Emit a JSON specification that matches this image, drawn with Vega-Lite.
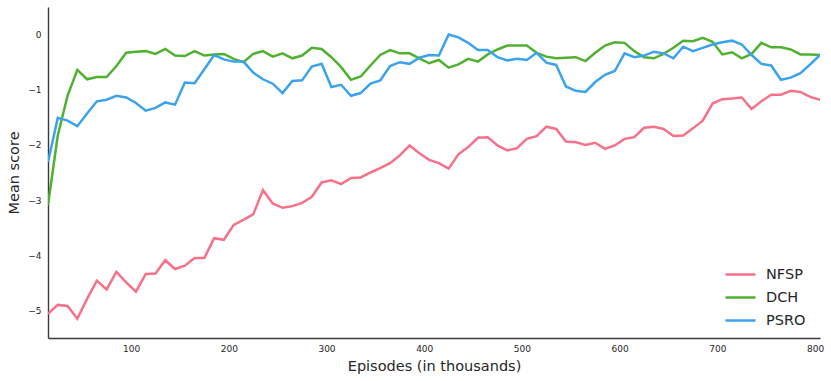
{
 "$schema": "https://vega.github.io/schema/vega-lite/v6.json",
 "width": 772,
 "height": 331,
 "autosize": {"type": "none"},
 "padding": {"left": 48, "top": 7, "right": 11, "bottom": 43},
 "background": "white",
 "config": {"view": {"stroke": null}, "font": "DejaVu Sans"},
 "datasets": {
  "scores": [
   {"ep":15,"method":"NFSP","score":-5.06},{"ep":25,"method":"NFSP","score":-4.90},{"ep":35,"method":"NFSP","score":-4.92},{"ep":45,"method":"NFSP","score":-5.15},{"ep":55,"method":"NFSP","score":-4.79},{"ep":65,"method":"NFSP","score":-4.46},{"ep":75,"method":"NFSP","score":-4.62},{"ep":85,"method":"NFSP","score":-4.30},{"ep":95,"method":"NFSP","score":-4.49},{"ep":105,"method":"NFSP","score":-4.66},
   {"ep":115,"method":"NFSP","score":-4.34},{"ep":125,"method":"NFSP","score":-4.33},{"ep":135,"method":"NFSP","score":-4.09},{"ep":145,"method":"NFSP","score":-4.25},{"ep":155,"method":"NFSP","score":-4.19},{"ep":165,"method":"NFSP","score":-4.05},{"ep":175,"method":"NFSP","score":-4.05},{"ep":185,"method":"NFSP","score":-3.69},{"ep":195,"method":"NFSP","score":-3.72},{"ep":205,"method":"NFSP","score":-3.45},
   {"ep":215,"method":"NFSP","score":-3.36},{"ep":225,"method":"NFSP","score":-3.26},{"ep":235,"method":"NFSP","score":-2.82},{"ep":245,"method":"NFSP","score":-3.06},{"ep":255,"method":"NFSP","score":-3.14},{"ep":265,"method":"NFSP","score":-3.11},{"ep":275,"method":"NFSP","score":-3.05},{"ep":285,"method":"NFSP","score":-2.94},{"ep":295,"method":"NFSP","score":-2.68},{"ep":305,"method":"NFSP","score":-2.64},
   {"ep":315,"method":"NFSP","score":-2.71},{"ep":325,"method":"NFSP","score":-2.60},{"ep":335,"method":"NFSP","score":-2.59},{"ep":345,"method":"NFSP","score":-2.50},{"ep":355,"method":"NFSP","score":-2.42},{"ep":365,"method":"NFSP","score":-2.33},{"ep":375,"method":"NFSP","score":-2.19},{"ep":385,"method":"NFSP","score":-2.01},{"ep":395,"method":"NFSP","score":-2.15},{"ep":405,"method":"NFSP","score":-2.27},
   {"ep":415,"method":"NFSP","score":-2.33},{"ep":425,"method":"NFSP","score":-2.43},{"ep":435,"method":"NFSP","score":-2.17},{"ep":445,"method":"NFSP","score":-2.04},{"ep":455,"method":"NFSP","score":-1.87},{"ep":465,"method":"NFSP","score":-1.86},{"ep":475,"method":"NFSP","score":-2.01},{"ep":485,"method":"NFSP","score":-2.10},{"ep":495,"method":"NFSP","score":-2.06},{"ep":505,"method":"NFSP","score":-1.89},
   {"ep":515,"method":"NFSP","score":-1.84},{"ep":525,"method":"NFSP","score":-1.67},{"ep":535,"method":"NFSP","score":-1.71},{"ep":545,"method":"NFSP","score":-1.94},{"ep":555,"method":"NFSP","score":-1.95},{"ep":565,"method":"NFSP","score":-2.00},{"ep":575,"method":"NFSP","score":-1.96},{"ep":585,"method":"NFSP","score":-2.07},{"ep":595,"method":"NFSP","score":-2.01},{"ep":605,"method":"NFSP","score":-1.89},
   {"ep":615,"method":"NFSP","score":-1.86},{"ep":625,"method":"NFSP","score":-1.69},{"ep":635,"method":"NFSP","score":-1.67},{"ep":645,"method":"NFSP","score":-1.71},{"ep":655,"method":"NFSP","score":-1.84},{"ep":665,"method":"NFSP","score":-1.83},{"ep":675,"method":"NFSP","score":-1.70},{"ep":685,"method":"NFSP","score":-1.56},{"ep":695,"method":"NFSP","score":-1.25},{"ep":705,"method":"NFSP","score":-1.17},
   {"ep":715,"method":"NFSP","score":-1.16},{"ep":725,"method":"NFSP","score":-1.14},{"ep":735,"method":"NFSP","score":-1.35},{"ep":745,"method":"NFSP","score":-1.21},{"ep":755,"method":"NFSP","score":-1.09},{"ep":765,"method":"NFSP","score":-1.09},{"ep":775,"method":"NFSP","score":-1.02},{"ep":785,"method":"NFSP","score":-1.04},{"ep":795,"method":"NFSP","score":-1.13},{"ep":805,"method":"NFSP","score":-1.18},

   {"ep":15,"method":"DCH","score":-3.09},{"ep":25,"method":"DCH","score":-1.83},{"ep":35,"method":"DCH","score":-1.11},{"ep":45,"method":"DCH","score":-0.64},{"ep":55,"method":"DCH","score":-0.81},{"ep":65,"method":"DCH","score":-0.77},{"ep":75,"method":"DCH","score":-0.77},{"ep":85,"method":"DCH","score":-0.57},{"ep":95,"method":"DCH","score":-0.33},{"ep":105,"method":"DCH","score":-0.31},
   {"ep":115,"method":"DCH","score":-0.30},{"ep":125,"method":"DCH","score":-0.35},{"ep":135,"method":"DCH","score":-0.26},{"ep":145,"method":"DCH","score":-0.38},{"ep":155,"method":"DCH","score":-0.39},{"ep":165,"method":"DCH","score":-0.30},{"ep":175,"method":"DCH","score":-0.38},{"ep":185,"method":"DCH","score":-0.36},{"ep":195,"method":"DCH","score":-0.35},{"ep":205,"method":"DCH","score":-0.44},
   {"ep":215,"method":"DCH","score":-0.50},{"ep":225,"method":"DCH","score":-0.35},{"ep":235,"method":"DCH","score":-0.30},{"ep":245,"method":"DCH","score":-0.40},{"ep":255,"method":"DCH","score":-0.34},{"ep":265,"method":"DCH","score":-0.43},{"ep":275,"method":"DCH","score":-0.38},{"ep":285,"method":"DCH","score":-0.24},{"ep":295,"method":"DCH","score":-0.26},{"ep":305,"method":"DCH","score":-0.41},
   {"ep":315,"method":"DCH","score":-0.59},{"ep":325,"method":"DCH","score":-0.82},{"ep":335,"method":"DCH","score":-0.76},{"ep":345,"method":"DCH","score":-0.56},{"ep":355,"method":"DCH","score":-0.37},{"ep":365,"method":"DCH","score":-0.28},{"ep":375,"method":"DCH","score":-0.34},{"ep":385,"method":"DCH","score":-0.34},{"ep":395,"method":"DCH","score":-0.43},{"ep":405,"method":"DCH","score":-0.52},
   {"ep":415,"method":"DCH","score":-0.46},{"ep":425,"method":"DCH","score":-0.60},{"ep":435,"method":"DCH","score":-0.54},{"ep":445,"method":"DCH","score":-0.44},{"ep":455,"method":"DCH","score":-0.49},{"ep":465,"method":"DCH","score":-0.36},{"ep":475,"method":"DCH","score":-0.27},{"ep":485,"method":"DCH","score":-0.20},{"ep":495,"method":"DCH","score":-0.20},{"ep":505,"method":"DCH","score":-0.20},
   {"ep":515,"method":"DCH","score":-0.33},{"ep":525,"method":"DCH","score":-0.40},{"ep":535,"method":"DCH","score":-0.43},{"ep":545,"method":"DCH","score":-0.42},{"ep":555,"method":"DCH","score":-0.41},{"ep":565,"method":"DCH","score":-0.48},{"ep":575,"method":"DCH","score":-0.33},{"ep":585,"method":"DCH","score":-0.20},{"ep":595,"method":"DCH","score":-0.14},{"ep":605,"method":"DCH","score":-0.15},
   {"ep":615,"method":"DCH","score":-0.30},{"ep":625,"method":"DCH","score":-0.41},{"ep":635,"method":"DCH","score":-0.43},{"ep":645,"method":"DCH","score":-0.35},{"ep":655,"method":"DCH","score":-0.24},{"ep":665,"method":"DCH","score":-0.11},{"ep":675,"method":"DCH","score":-0.12},{"ep":685,"method":"DCH","score":-0.06},{"ep":695,"method":"DCH","score":-0.13},{"ep":705,"method":"DCH","score":-0.36},
   {"ep":715,"method":"DCH","score":-0.32},{"ep":725,"method":"DCH","score":-0.43},{"ep":735,"method":"DCH","score":-0.35},{"ep":745,"method":"DCH","score":-0.15},{"ep":755,"method":"DCH","score":-0.23},{"ep":765,"method":"DCH","score":-0.23},{"ep":775,"method":"DCH","score":-0.27},{"ep":785,"method":"DCH","score":-0.36},{"ep":795,"method":"DCH","score":-0.36},{"ep":805,"method":"DCH","score":-0.37},

   {"ep":15,"method":"PSRO","score":-2.31},{"ep":25,"method":"PSRO","score":-1.51},{"ep":35,"method":"PSRO","score":-1.56},{"ep":45,"method":"PSRO","score":-1.66},{"ep":55,"method":"PSRO","score":-1.43},{"ep":65,"method":"PSRO","score":-1.21},{"ep":75,"method":"PSRO","score":-1.18},{"ep":85,"method":"PSRO","score":-1.11},{"ep":95,"method":"PSRO","score":-1.14},{"ep":105,"method":"PSRO","score":-1.24},
   {"ep":115,"method":"PSRO","score":-1.38},{"ep":125,"method":"PSRO","score":-1.33},{"ep":135,"method":"PSRO","score":-1.23},{"ep":145,"method":"PSRO","score":-1.27},{"ep":155,"method":"PSRO","score":-0.87},{"ep":165,"method":"PSRO","score":-0.88},{"ep":175,"method":"PSRO","score":-0.63},{"ep":185,"method":"PSRO","score":-0.37},{"ep":195,"method":"PSRO","score":-0.45},{"ep":205,"method":"PSRO","score":-0.49},
   {"ep":215,"method":"PSRO","score":-0.49},{"ep":225,"method":"PSRO","score":-0.69},{"ep":235,"method":"PSRO","score":-0.81},{"ep":245,"method":"PSRO","score":-0.89},{"ep":255,"method":"PSRO","score":-1.06},{"ep":265,"method":"PSRO","score":-0.84},{"ep":275,"method":"PSRO","score":-0.83},{"ep":285,"method":"PSRO","score":-0.58},{"ep":295,"method":"PSRO","score":-0.53},{"ep":305,"method":"PSRO","score":-0.95},
   {"ep":315,"method":"PSRO","score":-0.91},{"ep":325,"method":"PSRO","score":-1.11},{"ep":335,"method":"PSRO","score":-1.06},{"ep":345,"method":"PSRO","score":-0.89},{"ep":355,"method":"PSRO","score":-0.83},{"ep":365,"method":"PSRO","score":-0.57},{"ep":375,"method":"PSRO","score":-0.50},{"ep":385,"method":"PSRO","score":-0.53},{"ep":395,"method":"PSRO","score":-0.42},{"ep":405,"method":"PSRO","score":-0.37},
   {"ep":415,"method":"PSRO","score":-0.38},{"ep":425,"method":"PSRO","score":0.00},{"ep":435,"method":"PSRO","score":-0.05},{"ep":445,"method":"PSRO","score":-0.15},{"ep":455,"method":"PSRO","score":-0.28},{"ep":465,"method":"PSRO","score":-0.28},{"ep":475,"method":"PSRO","score":-0.41},{"ep":485,"method":"PSRO","score":-0.47},{"ep":495,"method":"PSRO","score":-0.44},{"ep":505,"method":"PSRO","score":-0.46},
   {"ep":515,"method":"PSRO","score":-0.33},{"ep":525,"method":"PSRO","score":-0.51},{"ep":535,"method":"PSRO","score":-0.55},{"ep":545,"method":"PSRO","score":-0.94},{"ep":555,"method":"PSRO","score":-1.02},{"ep":565,"method":"PSRO","score":-1.04},{"ep":575,"method":"PSRO","score":-0.86},{"ep":585,"method":"PSRO","score":-0.73},{"ep":595,"method":"PSRO","score":-0.66},{"ep":605,"method":"PSRO","score":-0.34},
   {"ep":615,"method":"PSRO","score":-0.41},{"ep":625,"method":"PSRO","score":-0.38},{"ep":635,"method":"PSRO","score":-0.31},{"ep":645,"method":"PSRO","score":-0.34},{"ep":655,"method":"PSRO","score":-0.43},{"ep":665,"method":"PSRO","score":-0.22},{"ep":675,"method":"PSRO","score":-0.30},{"ep":685,"method":"PSRO","score":-0.24},{"ep":695,"method":"PSRO","score":-0.18},{"ep":705,"method":"PSRO","score":-0.14},
   {"ep":715,"method":"PSRO","score":-0.11},{"ep":725,"method":"PSRO","score":-0.18},{"ep":735,"method":"PSRO","score":-0.37},{"ep":745,"method":"PSRO","score":-0.53},{"ep":755,"method":"PSRO","score":-0.56},{"ep":765,"method":"PSRO","score":-0.82},{"ep":775,"method":"PSRO","score":-0.78},{"ep":785,"method":"PSRO","score":-0.70},{"ep":795,"method":"PSRO","score":-0.54},{"ep":805,"method":"PSRO","score":-0.37}
  ]
 },
 "data": {"name": "scores"},
 "mark": {"type": "line", "strokeWidth": 2.5, "clip": true},
 "encoding": {
  "x": {
   "field": "ep", "type": "quantitative",
   "scale": {"domain": [15, 805], "nice": false, "zero": false},
   "axis": {
    "title": "Episodes (in thousands)",
    "values": [100, 200, 300, 400, 500, 600, 700, 800],
    "grid": false, "ticks": false, "tickSize": 0,
    "labelPadding": 6, "labelFontSize": 9, "labelColor": "#262626", "labelFlush": false,
    "domainColor": "#3a3a3a", "domainWidth": 1.4,
    "titleFontSize": 14.5, "titleFontWeight": "normal", "titleColor": "#262626",
    "titleY": 28, "titleBaseline": "middle"
   }
  },
  "y": {
   "field": "score", "type": "quantitative",
   "scale": {"domain": [-5.5, 0.5], "nice": false, "zero": false},
   "axis": {
    "title": "Mean score",
    "values": [-5, -4, -3, -2, -1, 0],
    "format": "d",
    "grid": false, "ticks": false, "tickSize": 0,
    "labelPadding": 7, "labelFontSize": 9, "labelColor": "#262626", "labelFlush": false,
    "domainColor": "#3a3a3a", "domainWidth": 1.4,
    "titleFontSize": 14.5, "titleFontWeight": "normal", "titleColor": "#262626",
    "titleX": -34, "titleBaseline": "middle"
   }
  },
  "color": {
   "field": "method", "type": "nominal",
   "scale": {"domain": ["NFSP", "DCH", "PSRO"], "range": ["#f77189", "#50b131", "#3ba3ec"]},
   "legend": {
    "title": null, "orient": "none", "legendX": 676, "legendY": 251,
    "symbolType": "stroke", "symbolSize": 900, "symbolStrokeWidth": 2.5,
    "labelFontSize": 14.5, "labelColor": "#262626", "labelOffset": 9,
    "rowPadding": -10
   }
  }
 }
}
